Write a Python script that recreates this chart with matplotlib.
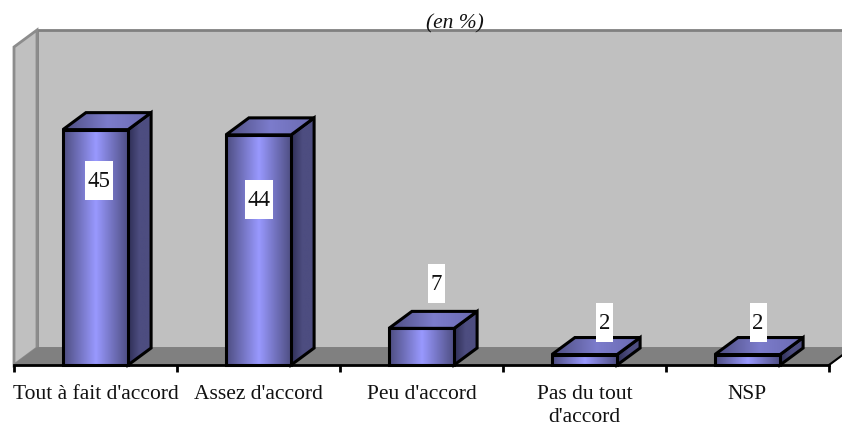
import matplotlib
matplotlib.use("Agg")
import matplotlib.pyplot as plt
import numpy as np
from matplotlib.colors import LinearSegmentedColormap
from matplotlib.patches import Polygon, Rectangle

categories = ["Tout à fait d'accord", "Assez d'accord", "Peu d'accord", "Pas du tout\nd'accord", "NSP"]
values = [45, 44, 7, 2, 2]
title = "(en %)"

# where the white value labels sit (category units / value units)
label_x = [0.52, 1.50, 2.59, 3.625, 4.565]
label_y = [35.2, 31.6, 15.6, 8.2, 8.2]

plt.rcParams['font.family'] = ['Liberation Serif', 'DejaVu Serif']

W, H = 842, 427
fig = plt.figure(figsize=(W / 100, H / 100), dpi=100)
# front plane of the 3d box
ax = fig.add_axes([14 / W, 1 - 366 / H, 815 / W, 318 / H])
ymax = 60.8
ax.set_xlim(0, 5)
ax.set_ylim(0, ymax)
ax.patch.set_visible(False)
for s in ax.spines.values():
    s.set_visible(False)

# depth of the box, in data units
dx = 23 / 163
dy = 17 * ymax / 318
bar_w = 0.4

ax.add_patch(Polygon([(dx, dy), (5 + dx, dy), (5 + dx, ymax + dy), (dx, ymax + dy)], fc="#C0C0C0",
                     ec="#808080", lw=2, clip_on=False, zorder=1))
ax.add_patch(Polygon([(0, 0), (dx, dy), (dx, ymax + dy), (0, ymax)], fc="#C0C0C0", ec="#8c8c8c", lw=2,
                     clip_on=False, zorder=1.1))
ax.add_patch(Polygon([(0, 0), (5, 0), (5 + dx, dy), (dx, dy)], fc="#808080", ec="#808080", lw=1,
                     clip_on=False, zorder=1.2))
ax.plot([5, 5 + dx], [0, dy], color="black", lw=1.5, clip_on=False, zorder=1.3)

front = LinearSegmentedColormap.from_list("front", ["#4D4D80", "#9999FF", "#4D4D80"])
top = LinearSegmentedColormap.from_list("top", ["#4D4D80", "#7C7CCC", "#6a6ab0"])
side = LinearSegmentedColormap.from_list("side", ["#2E2E55", "#4D4D80", "#4D4D80"])
ramp = np.linspace(0, 1, 128).reshape(1, -1)


def shaded(poly, cmap, ext, z):
    im = ax.imshow(ramp, cmap=cmap, extent=ext, aspect="auto", zorder=z, clip_on=True)
    patch = Polygon(poly, closed=True, transform=ax.transData, fc="none", ec="none")
    ax.add_patch(patch)
    im.set_clip_path(patch)
    ax.add_patch(Polygon(poly, closed=True, fc="none", ec="black", lw=2.2, zorder=z + 0.1,
                         clip_on=False, joinstyle="miter"))


for i, v in enumerate(values):
    x0 = i + 0.5 - bar_w / 2
    x1 = x0 + bar_w
    z = 3 + i
    shaded([(x1, 0), (x1 + dx, dy), (x1 + dx, v + dy), (x1, v)], side,
           (x1, x1 + dx, 0, v + dy), z)
    shaded([(x0, v), (x1, v), (x1 + dx, v + dy), (x0 + dx, v + dy)], top,
           (x0, x1 + dx, v, v + dy), z + 0.2)
    shaded([(x0, 0), (x1, 0), (x1, v), (x0, v)], front, (x0, x1, 0, v), z + 0.4)

ax.set_xlim(0, 5)
ax.set_ylim(0, ymax)

# value labels on white boxes
for v, lx, ly in zip(values, label_x, label_y):
    w = (28 if v >= 10 else 17) / 163
    h = 39 * ymax / 318
    ax.add_patch(Rectangle((lx - w / 2, ly - h / 2), w, h, fc="white", ec="none", zorder=10, clip_on=False))
    ax.text(lx, ly, str(v), ha="center", va="center", fontsize=16.5, color="#111111", zorder=11)

ax.set_xticks(np.arange(6))
ax.set_xticklabels([])
ax.set_yticks([])
ax.tick_params(axis="x", length=5, width=2, color="black")
ax.plot([0, 5], [0, 0], color="black", lw=2, clip_on=False, zorder=9)
for i, c in enumerate(categories):
    ax.annotate(c, (i + 0.5, 0), xytext=(0, -14), textcoords="offset points", ha="center", va="top",
                fontsize=15.5, color="#111111", linespacing=1.25, annotation_clip=False)

fig.text(455 / W, 1 - 23.5 / H, title, ha="center", va="center", fontsize=15.5, style="italic", color="#111111")

fig.savefig("out.png", dpi=100)
